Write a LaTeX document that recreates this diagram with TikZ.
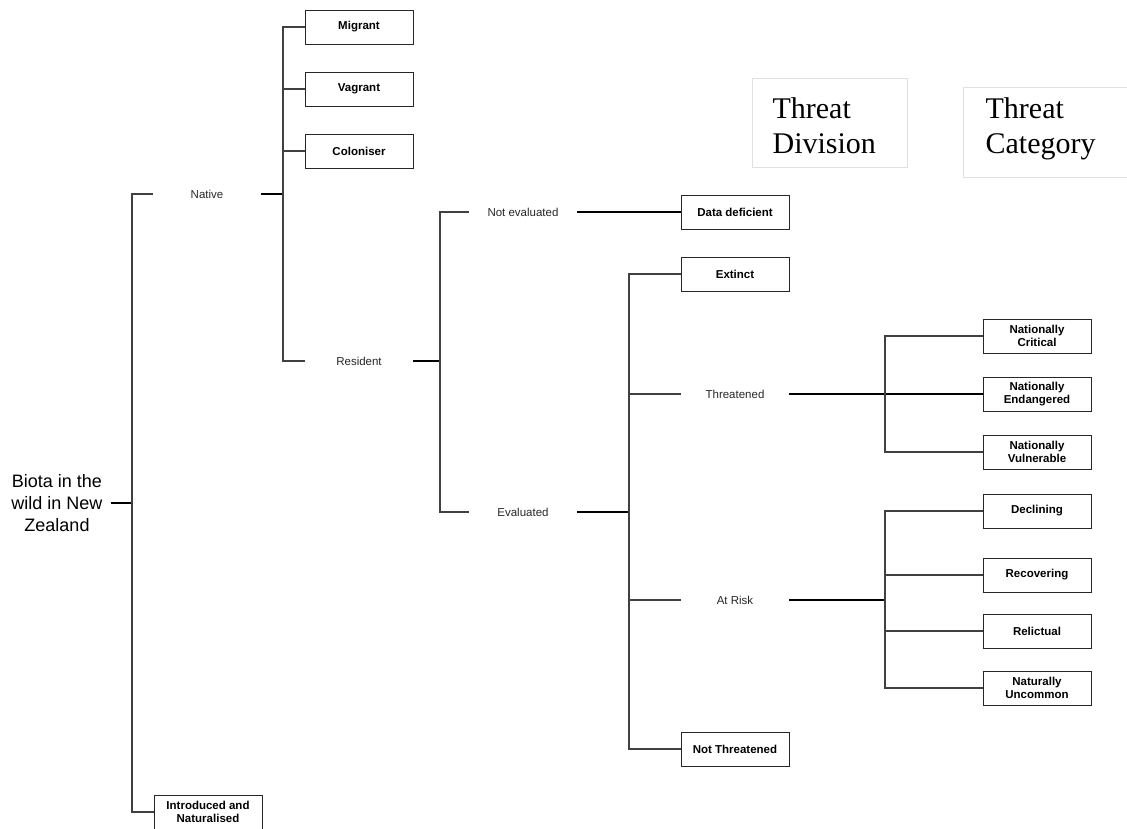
\documentclass[tikz,border=0pt]{standalone}
\usepackage{fontspec}
\setmainfont{Liberation Sans}
\newfontfamily\seriffont{Liberation Serif}
\begin{document}
\begin{tikzpicture}[x=1pt,y=-1pt,
  cat/.style={draw=black!85, line width=1pt, minimum width=108pt, minimum height=34pt, inner sep=0pt, align=center, font=\fontsize{11.5}{13}\selectfont\bfseries},
  lab/.style={minimum width=108pt, minimum height=34pt, inner sep=0pt, align=center, font=\fontsize{11.5}{13}\selectfont, text=black!85},
  thin/.style={draw=black!75, line width=1.1pt},
  thk/.style={draw=black, line width=1.6pt},
  hdr/.style={draw=black!12, line width=1.2pt, align=left, font=\seriffont\fontsize{30}{35}\selectfont, anchor=north west, inner ysep=0pt}]
\useasboundingbox (0,0) rectangle (1127,828);
% headers
\node[hdr, minimum width=155pt, minimum height=89pt, inner xsep=20pt, text width=115pt, text height=26pt, text depth=35pt] (hdiv) at (752,78) {Threat\\Division};
\node[hdr, minimum width=175pt, minimum height=90pt, inner xsep=22pt, text width=131pt, text height=20pt, text depth=48pt] (hcat) at (963,87) {Threat\\Category};
% root
\node[align=center, font=\fontsize{18}{22}\selectfont, inner xsep=8pt, inner ysep=0pt] (biota) at (57,503) {Biota in the\\wild in New\\Zealand};
\coordinate (j0) at (132,0);
\coordinate (j1) at (283,0);
\coordinate (j2) at (440,0);
\coordinate (j3) at (629,0);
\coordinate (j4) at (885,0);
% nodes
\node[lab] (native) at (207,194) {Native};
\node[cat] (intro) at (208,812) {Introduced and\\Naturalised};
\node[cat] (migrant) at (359,27) {Migrant};
\node[cat] (vagrant) at (359,89) {Vagrant};
\node[cat] (colon) at (359,151) {Coloniser};
\node[lab] (resident) at (359,361) {Resident};
\node[lab] (notev) at (523,212) {Not evaluated};
\node[lab] (ev) at (523,512) {Evaluated};
\node[cat] (dd) at (735,212) {Data deficient};
\node[cat] (extinct) at (735,274) {Extinct};
\node[lab] (threatened) at (735,394) {Threatened};
\node[lab] (atrisk) at (735,600) {At Risk};
\node[cat] (notthr) at (735,749) {Not Threatened};
\node[cat] (nc) at (1037,336) {Nationally\\Critical};
\node[cat] (ne) at (1037,394) {Nationally\\Endangered};
\node[cat] (nv) at (1037,452) {Nationally\\Vulnerable};
\node[cat] (decl) at (1037,511) {Declining};
\node[cat] (recov) at (1037,575) {Recovering};
\node[cat] (relic) at (1037,631) {Relictual};
\node[cat] (nu) at (1037,688) {Naturally\\Uncommon};
% connectors
\draw[thk] (biota.east) -- (biota.east -| j0);
\draw[thin] (native.west) -- (native.west -| j0) -- (intro.west -| j0) -- (intro.west);
\draw[thk] (native.east) -- (native.east -| j1);
\draw[thin] (migrant.west) -- (migrant.west -| j1) -- (resident.west -| j1) -- (resident.west);
\draw[thin] (vagrant.west -| j1) -- (vagrant.west);
\draw[thin] (colon.west -| j1) -- (colon.west);
\draw[thk] (resident.east) -- (resident.east -| j2);
\draw[thin] (notev.west) -- (notev.west -| j2) -- (ev.west -| j2) -- (ev.west);
\draw[thk] (notev.east) -- (dd.west);
\draw[thk] (ev.east) -- (ev.east -| j3);
\draw[thin] (extinct.west) -- (extinct.west -| j3) -- (notthr.west -| j3) -- (notthr.west);
\draw[thin] (threatened.west -| j3) -- (threatened.west);
\draw[thin] (atrisk.west -| j3) -- (atrisk.west);
\draw[thk] (threatened.east) -- (ne.west);
\draw[thin] (nc.west) -- (nc.west -| j4) -- (nv.west -| j4) -- (nv.west);
\draw[thk] (atrisk.east) -- (atrisk.east -| j4);
\draw[thin] (decl.west) -- (decl.west -| j4) -- (nu.west -| j4) -- (nu.west);
\draw[thin] (recov.west -| j4) -- (recov.west);
\draw[thin] (relic.west -| j4) -- (relic.west);
\end{tikzpicture}
\end{document}
